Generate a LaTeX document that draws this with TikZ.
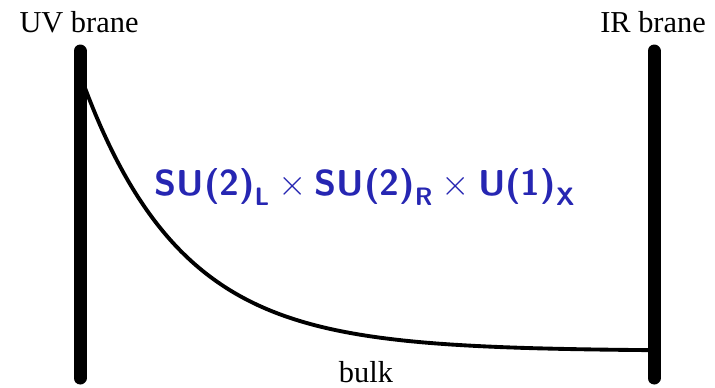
\documentclass[tikz,border=0pt]{standalone}
\usepackage{amsmath}
\usepackage{fontspec}
\newfontfamily\branefont{Liberation Serif}
\usepackage{tikz}
\definecolor{groupblue}{RGB}{38,38,178}
\newcommand{\gs}[1]{\text{\sffamily\bfseries #1}}
\newcommand{\gaugegroup}{$\gs{SU(2)}_{\gs{L}}\times\gs{SU(2)}_{\gs{R}}\times\gs{U(1)}_{\gs{X}}$}

\begin{document}
\begin{tikzpicture}[x=0.02cm, y=-0.02cm,
    brane/.style={line width=7.4pt, line cap=round},
    bulkline/.style={line width=2.2pt},
    branelabel/.style={font=\branefont\fontsize{17.3}{20}\selectfont, anchor=base, inner sep=0pt},
    symtext/.style={font=\fontsize{20.5}{24}\selectfont, text=groupblue, anchor=base, inner sep=0pt},
]
\useasboundingbox (0,0) rectangle (715,387);

\coordinate (uvtop) at (80,51);
\coordinate (uvbot) at (80,378);
\coordinate (irtop) at (654,51);
\coordinate (irbot) at (654,378);

% warp factor profile in the bulk
\draw[bulkline] plot[domain=80:654, samples=120, smooth]
    (\x, {351-263*exp(-0.0101*(\x-85))});

\draw[brane] (uvtop) -- (uvbot);
\draw[brane] (irtop) -- (irbot);

\node[branelabel] (uv) at (79,32) {UV brane};
\node[branelabel] (ir) at (653,32) {IR brane};
\node[branelabel] (bulk) at (366,382) {bulk};
\node[symtext] (sym) at (365,195) {\gaugegroup};

\end{tikzpicture}
\end{document}
